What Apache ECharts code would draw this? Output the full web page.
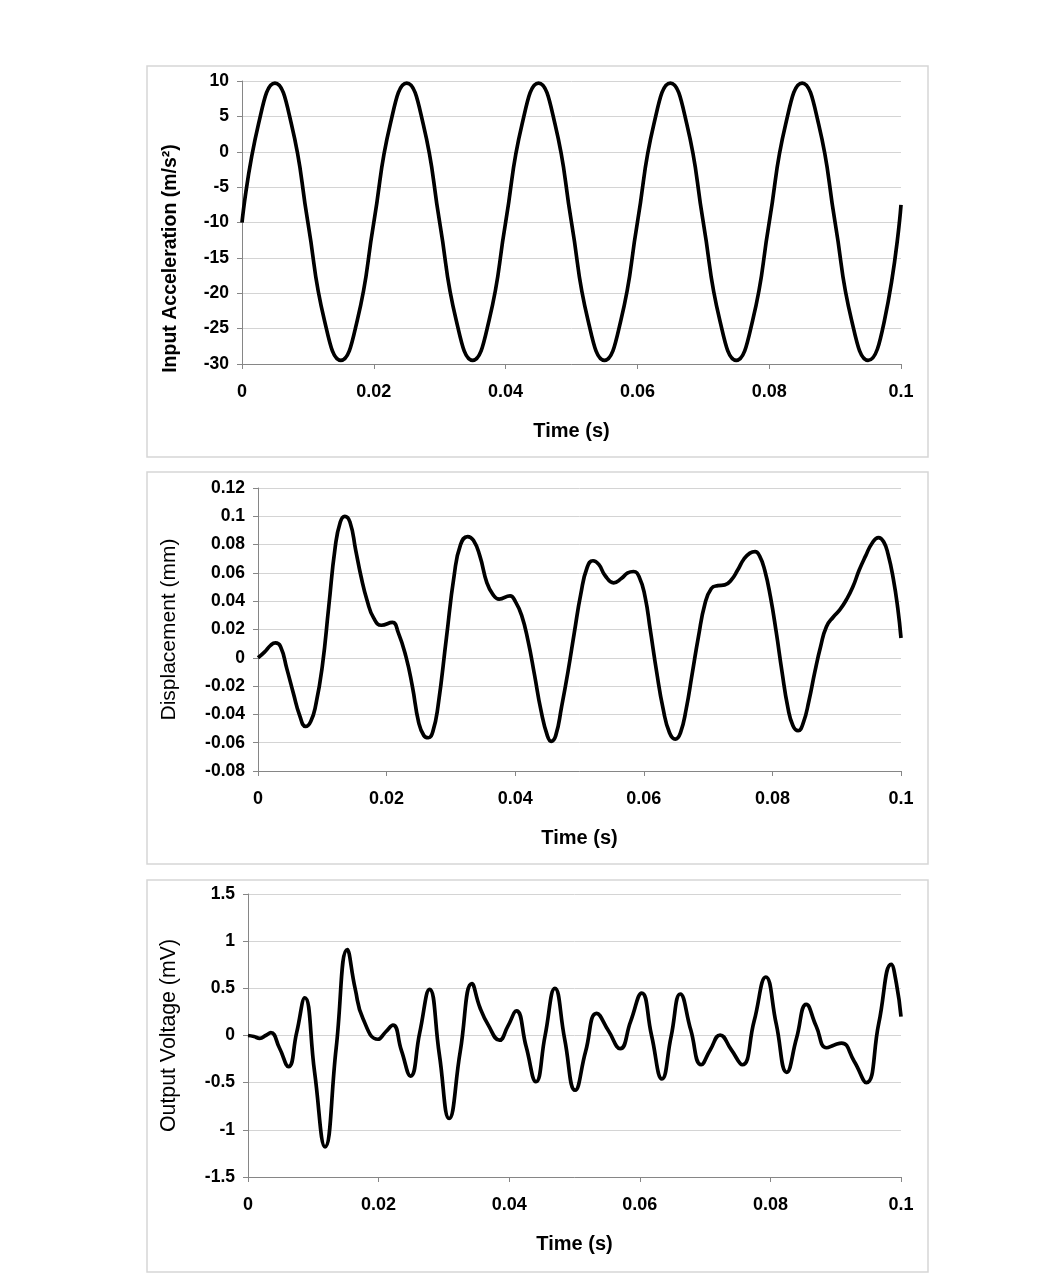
<!DOCTYPE html>
<html><head><meta charset="utf-8">
<script src="https://cdn.jsdelivr.net/npm/echarts@6/dist/echarts.min.js"></script>
<style>html,body{margin:0;padding:0;background:#fff}#c{width:1052px;height:1278px}</style>
</head><body><div id="c"></div>
<script>
// ---- data (time in ms, converted to seconds when building series) ----
const accelTimeMs = [0,2.5,5,7.5,10,12.5,15,17.5,20,22.5,25,27.5,30,32.5,35,37.5,40,42.5,45,47.5,50,52.5,55,57.5,60,62.5,65,67.5,70,72.5,75,77.5,80,82.5,85,87.5,90,92.5,95,97.5,100];
const accelValues = [-10,3.9,9.7,3.9,-10,-23.8,-29.5,-23.8,-10,3.9,9.7,3.9,-10,-23.8,-29.5,-23.8,-10,3.9,9.7,3.9,-10,-23.8,-29.5,-23.8,-10,3.9,9.7,3.9,-10,-23.8,-29.5,-23.8,-10,3.9,9.7,3.9,-10,-23.8,-29.5,-23.8,-7.5];

const dispTimeMs = [0,1,2,2.7,3.5,4.5,5.5,6.5,7.4,8.2,9,10,11,12,12.8,13.5,14.3,15.2,16,17,18,19.2,20.9,21.8,23,24,25,25.8,26.5,27.2,28,29.3,30.5,31.5,32.6,33.5,34.5,35.6,36.5,37.5,39.2,40,41,42,43,44,45,45.6,46.3,47.2,48.2,49.2,50.2,51.2,52.1,53,54,55.3,56.5,57.5,58.4,59.3,60.2,61,62,63,64,64.9,65.7,66.6,67.5,68.5,69.5,70.5,71.5,72.6,73.6,74.6,75.6,76.5,77.3,78,78.8,79.7,80.6,81.5,82.4,83.2,84,84.8,85.7,86.6,87.5,88.4,89.5,90.5,91.5,92.5,93.5,94.5,95.5,96.5,97.3,98,98.8,99.5,100];
const dispValues = [0,0.004,0.009,0.0105,0.008,-0.008,-0.025,-0.041,-0.0485,-0.045,-0.033,-0.006,0.036,0.078,0.096,0.1,0.096,0.076,0.058,0.04,0.028,0.023,0.025,0.018,0.001,-0.02,-0.046,-0.055,-0.0565,-0.052,-0.034,0.014,0.058,0.08,0.0857,0.083,0.072,0.053,0.045,0.0415,0.0438,0.04,0.03,0.012,-0.012,-0.037,-0.055,-0.059,-0.055,-0.035,-0.01,0.018,0.045,0.064,0.0686,0.066,0.058,0.053,0.056,0.06,0.061,0.057,0.043,0.02,-0.01,-0.036,-0.053,-0.0575,-0.053,-0.036,-0.012,0.015,0.038,0.049,0.051,0.0515,0.055,0.062,0.07,0.074,0.0751,0.072,0.062,0.043,0.018,-0.01,-0.035,-0.048,-0.0515,-0.046,-0.03,-0.01,0.008,0.022,0.029,0.034,0.041,0.05,0.062,0.072,0.081,0.085,0.082,0.073,0.056,0.035,0.014];

const voltTimeMs = [0,0.9,1.8,2.7,3.5,4.8,6.2,7.45,8.7,10.2,11.8,13.5,15.2,16.4,17.6,19.9,21.1,22.2,23.5,24.9,26.3,27.8,29.3,30.8,32.5,34.3,35.5,36.8,38.5,39.8,41.1,42.6,44.1,45.5,47,48.5,50.1,51.7,53.4,55.2,57,58.6,60.3,61.8,63.4,64.8,66.2,67.8,69.4,70.8,72.3,74,75.7,77.5,79.3,80.9,82.5,84,85.5,87,88.6,89.8,90.9,92.8,94.7,96.6,98.5,99.3,100];
const voltValues = [0,-0.01,-0.03,0,0.03,-0.13,-0.33,0.03,0.4,-0.39,-1.18,-0.135,0.91,0.5,0.18,-0.04,0.04,0.11,-0.16,-0.43,0.03,0.49,-0.2,-0.88,-0.17,0.55,0.3,0.11,-0.05,0.1,0.26,-0.12,-0.49,0,0.5,-0.04,-0.58,-0.17,0.235,0.05,-0.14,0.15,0.45,0,-0.46,-0.01,0.44,0.06,-0.31,-0.15,0.005,-0.15,-0.31,0.15,0.62,0.12,-0.39,-0.03,0.33,0.1,-0.13,-0.1,-0.08,-0.27,-0.5,0.13,0.755,0.55,0.2];

const yTitles = ['Input Acceleration (m/s²)', 'Displacement (mm)', 'Output Voltage (mV)'];
const xTitle = 'Time (s)';
const yRanges = [[-30, 10, 5], [-0.08, 0.12, 0.02], [-1.5, 1.5, 0.5]];
const xRange = [0, 0.1, 0.02];

const FONT = 'Liberation Sans, Arial, sans-serif';
const fmt = v => String(parseFloat(Number(v).toFixed(4)));
const toPairs = (ts, vs) => ts.map((t, i) => [t / 1000, vs[i]]);

const grids = [
  {left: 242, top: 81, width: 659, height: 283},
  {left: 258, top: 488, width: 643, height: 283},
  {left: 248, top: 894, width: 653, height: 283}
];
const yNameGaps = [61, 78, 68];
const yTitleStyles = [
  {fontSize: 19.5, fontWeight: 'bold', padding: [0, 72, 0, 0]},
  {fontSize: 21, fontWeight: 'normal', padding: 0},
  {fontSize: 21.3, fontWeight: 'normal', padding: 0}
];

const xAxes = grids.map((g, i) => ({
  gridIndex: i, type: 'value', min: xRange[0], max: xRange[1], interval: xRange[2],
  name: xTitle, nameLocation: 'middle', nameGap: 57,
  nameTextStyle: {fontFamily: FONT, fontSize: 20, fontWeight: 'bold', color: '#000'},
  axisLine: {onZero: false, lineStyle: {color: '#868686', width: 1}},
  axisTick: {show: true, length: 5, inside: false, lineStyle: {color: '#868686'}},
  axisLabel: {formatter: fmt, margin: 19, fontFamily: FONT, fontSize: 18, fontWeight: 'bold', color: '#000'},
  splitLine: {show: false}
}));
const yAxes = grids.map((g, i) => ({
  gridIndex: i, type: 'value', min: yRanges[i][0], max: yRanges[i][1], interval: yRanges[i][2],
  name: yTitles[i], nameLocation: 'middle', nameGap: yNameGaps[i], nameRotate: 90,
  nameTextStyle: Object.assign({fontFamily: FONT, color: '#000'}, yTitleStyles[i]),
  axisLine: {show: true, onZero: false, lineStyle: {color: '#868686', width: 1}},
  axisTick: {show: true, length: 5, inside: false, lineStyle: {color: '#868686'}},
  axisLabel: {formatter: fmt, margin: 13, fontFamily: FONT, fontSize: 17.5, fontWeight: 'bold', color: '#000'},
  splitLine: {show: true, lineStyle: {color: '#d4d4d4', width: 1}}
}));

const seriesData = [toPairs(accelTimeMs, accelValues), toPairs(dispTimeMs, dispValues), toPairs(voltTimeMs, voltValues)];
const series = seriesData.map((d, i) => ({
  type: 'line', xAxisIndex: i, yAxisIndex: i, data: d, smooth: 0.5,
  showSymbol: false, symbol: 'none', clip: false,
  lineStyle: {color: '#000', width: 3.7}
}));

const frames = [[147, 66, 781, 391], [147, 472, 781, 392], [147, 880, 781, 392]];
const graphic = frames.map(f => ({
  type: 'rect', silent: true, z: -10,
  shape: {x: f[0], y: f[1], width: f[2], height: f[3]},
  style: {fill: 'none', stroke: '#d6d6d6', lineWidth: 1.5}
}));

const chart = echarts.init(document.getElementById('c'), null, {renderer: 'canvas'});
chart.setOption({
  animation: false, backgroundColor: '#fff',
  grid: grids, xAxis: xAxes, yAxis: yAxes, series: series, graphic: graphic
});
</script></body></html>
